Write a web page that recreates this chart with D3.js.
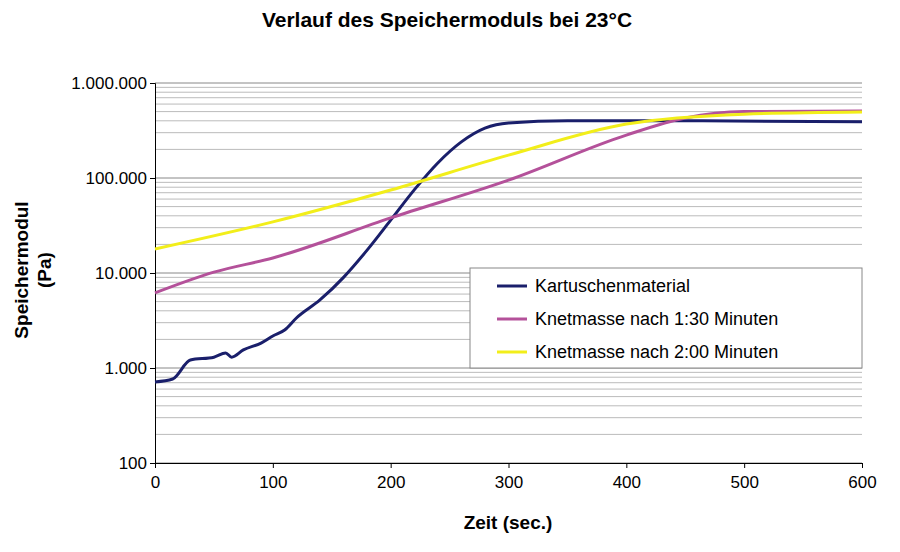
<!DOCTYPE html><html><head><meta charset="utf-8"><script src="https://cdn.jsdelivr.net/npm/d3@7"></script>
<style>body{margin:0;background:#fff}text{font-family:"Liberation Sans",Arial,sans-serif}</style></head><body><svg id="c" width="900" height="552"></svg><script>
const seriesNames=["Kartuschenmaterial","Knetmasse nach 1:30 Minuten","Knetmasse nach 2:00 Minuten"];
const colors=["#1a1f6b","#b4519a","#f2ee1a"];
const kartT=[0,15,30,50,60,65,75,90,100,110,120,140,160,180,200,220,240,260,280,300,350,450,600];
const kartV=[713,766,1214,1300,1440,1300,1550,1830,2170,2510,3360,5200,9000,17400,36000,75000,144000,240000,335000,380000,400000,400000,390000];
const pinkT=[0,50,100,200,300,400,450,500,600];
const pinkV=[6170,10200,14400,38000,95000,283000,428000,500000,507000];
const yelT=[0,100,200,300,400,500,600];
const yelV=[17900,34500,74700,174000,370000,470000,495000];
const xTicks=[0,100,200,300,400,500,600];
const yTicks=[100,1000,10000,100000,1000000];
const svg=d3.select("#c");
const x=d3.scaleLinear().domain([0,600]).range([155,862]);
const y=d3.scaleLog().domain([100,1000000]).range([463,83]);
const fmt=d3.formatLocale({decimal:",",thousands:".",grouping:[3]}).format(",d");
for(let d=100;d<1000000;d*=10)for(let m=1;m<10;m++){const v=d*m;svg.append("line").attr("x1",155).attr("x2",862).attr("y1",y(v)).attr("y2",y(v)).attr("stroke",m==1?"#888":"#bbb").attr("stroke-width",1);}
svg.append("line").attr("x1",155).attr("x2",862).attr("y1",y(1e6)).attr("y2",y(1e6)).attr("stroke","#888");
const ya=svg.append("g").attr("transform","translate(155,0)").call(d3.axisLeft(y).tickValues(yTicks).tickFormat(fmt).tickSize(5));
const xa=svg.append("g").attr("transform","translate(0,463)").call(d3.axisBottom(x).tickValues(xTicks).tickSize(5));
[ya,xa].forEach(a=>{a.selectAll("text").attr("font-size",17).attr("fill","#000");a.selectAll("path,line").attr("stroke","#000");});
xa.selectAll("text").attr("dy","1.0em");
const line=d3.line().x(d=>x(d[0])).y(d=>y(d[1])).curve(d3.curveMonotoneX);
[[kartT,kartV],[pinkT,pinkV],[yelT,yelV]].forEach((s,i)=>{
 svg.append("path").attr("d",line(s[0].map((t,j)=>[t,s[1][j]]))).attr("fill","none").attr("stroke",colors[i]).attr("stroke-width",3);
});
const lg=svg.append("g");
lg.append("rect").attr("x",470).attr("y",268).attr("width",392).attr("height",100).attr("fill","#fff").attr("stroke","#888");
seriesNames.forEach((n,i)=>{const yy=286+i*33;
 lg.append("line").attr("x1",497).attr("x2",527).attr("y1",yy).attr("y2",yy).attr("stroke",colors[i]).attr("stroke-width",3);
 lg.append("text").attr("x",535).attr("y",yy+6).attr("font-size",18).text(n);});
svg.append("text").attr("x",447).attr("y",27).attr("text-anchor","middle").attr("font-size",21).attr("font-weight","bold").text("Verlauf des Speichermoduls bei 23°C");
svg.append("text").attr("x",508).attr("y",529).attr("text-anchor","middle").attr("font-size",19).attr("font-weight","bold").text("Zeit (sec.)");
const yl=svg.append("text").attr("transform","translate(28,270) rotate(-90)").attr("text-anchor","middle").attr("font-size",19).attr("font-weight","bold");
yl.append("tspan").attr("x",0).attr("dy",0).text("Speichermodul");
yl.append("tspan").attr("x",0).attr("dy",23).text("(Pa)");
</script></body></html>
